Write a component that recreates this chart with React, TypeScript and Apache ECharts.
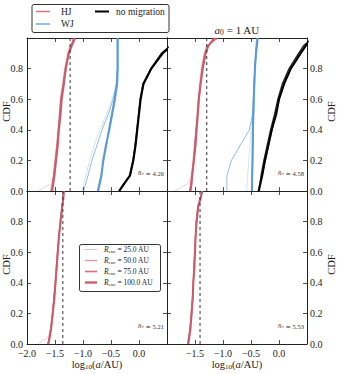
import React, { useEffect, useRef } from 'react';
import * as echarts from 'echarts';

// ---------- data ----------
const cdfLevels = [0, 0.05, 0.1, 0.2, 0.3, 0.4, 0.5, 0.6, 0.7, 0.8, 0.9, 0.95, 1.0];
const rEncLabels = ['25.0', '50.0', '75.0', '100.0'];
const xTicks = [-2.0, -1.5, -1.0, -0.5, 0.0, 0.5];
const yTicks = [0.0, 0.2, 0.4, 0.6, 0.8, 1.0];

// top-left (no title)
const hjTL25 = [-1.80, -1.56, -1.53, -1.50, -1.47, -1.45, -1.42, -1.40, -1.37, -1.33, -1.28, -1.24, -1.16];
const hjTL50 = [-1.58, -1.55, -1.53, -1.50, -1.47, -1.44, -1.41, -1.39, -1.36, -1.32, -1.27, -1.22, -1.17];
const hjTL75 = [-1.56, -1.54, -1.52, -1.49, -1.46, -1.44, -1.42, -1.40, -1.35, -1.30, -1.26, -1.21, -1.15];
const hjTL100 = [-1.55, -1.53, -1.51, -1.48, -1.45, -1.43, -1.40, -1.38, -1.34, -1.31, -1.25, -1.20, -1.14];
const wjTL25 = [-1.02, -0.98, -0.95, -0.88, -0.80, -0.70, -0.58, -0.48, -0.41, -0.39, -0.39, -0.39, -0.39];
const wjTL50 = [-0.99, -0.95, -0.91, -0.84, -0.75, -0.66, -0.55, -0.46, -0.40, -0.385, -0.385, -0.385, -0.385];
const wjTL75 = [-0.74, -0.71, -0.68, -0.63, -0.58, -0.54, -0.49, -0.44, -0.40, -0.385, -0.385, -0.385, -0.385];
const wjTL100 = [-0.73, -0.70, -0.67, -0.64, -0.59, -0.53, -0.48, -0.43, -0.39, -0.38, -0.38, -0.38, -0.38];
const nmTL25 = [-0.36, -0.26, -0.17, -0.10, -0.07, -0.04, -0.01, 0.02, 0.08, 0.22, 0.42, 0.58, 0.95];
const nmTL50 = [-0.35, -0.25, -0.16, -0.10, -0.06, -0.03, 0.00, 0.03, 0.09, 0.23, 0.44, 0.60, 0.95];
const nmTL75 = [-0.36, -0.27, -0.17, -0.11, -0.07, -0.04, -0.01, 0.02, 0.07, 0.21, 0.40, 0.56, 0.95];
const nmTL100 = [-0.35, -0.26, -0.16, -0.10, -0.06, -0.03, 0.00, 0.03, 0.08, 0.22, 0.42, 0.58, 0.95];

// top-right (a0 = 1 AU)
const hjTR25 = [-1.86, -1.62, -1.57, -1.54, -1.51, -1.49, -1.47, -1.45, -1.42, -1.39, -1.34, -1.29, -1.10];
const hjTR50 = [-1.60, -1.58, -1.56, -1.53, -1.51, -1.48, -1.46, -1.44, -1.41, -1.38, -1.33, -1.28, -1.08];
const hjTR75 = [-1.59, -1.57, -1.55, -1.52, -1.50, -1.48, -1.45, -1.43, -1.40, -1.37, -1.32, -1.27, -1.12];
const hjTR100 = [-1.58, -1.56, -1.55, -1.52, -1.49, -1.47, -1.45, -1.43, -1.40, -1.36, -1.31, -1.26, -1.15];
const wjTR25 = [-0.58, -0.57, -0.56, -0.54, -0.52, -0.50, -0.48, -0.46, -0.45, -0.43, -0.42, -0.41, -0.40];
const wjTR50 = [-0.93, -0.93, -0.93, -0.85, -0.69, -0.53, -0.47, -0.46, -0.45, -0.43, -0.42, -0.41, -0.40];
const wjTR75 = [-0.48, -0.48, -0.475, -0.47, -0.465, -0.46, -0.455, -0.45, -0.44, -0.43, -0.41, -0.40, -0.38];
const wjTR100 = [-0.485, -0.48, -0.48, -0.475, -0.47, -0.465, -0.46, -0.45, -0.44, -0.43, -0.41, -0.395, -0.38];
const nmTR25 = [-0.37, -0.34, -0.31, -0.26, -0.20, -0.14, -0.07, -0.01, 0.08, 0.20, 0.38, 0.46, 0.60];
const nmTR50 = [-0.36, -0.33, -0.30, -0.24, -0.18, -0.12, -0.06, 0.01, 0.10, 0.22, 0.36, 0.47, 0.60];
const nmTR75 = [-0.37, -0.34, -0.32, -0.27, -0.21, -0.15, -0.08, -0.02, 0.06, 0.18, 0.35, 0.44, 0.60];
const nmTR100 = [-0.36, -0.33, -0.30, -0.25, -0.19, -0.13, -0.05, 0.00, 0.09, 0.21, 0.39, 0.48, 0.60];

// bottom-left
const hjBL25 = [-1.80, -1.62, -1.58, -1.54, -1.52, -1.50, -1.48, -1.46, -1.44, -1.41, -1.38, -1.36, -1.34];
const hjBL50 = [-1.63, -1.60, -1.58, -1.55, -1.52, -1.50, -1.48, -1.46, -1.43, -1.41, -1.38, -1.36, -1.35];
const hjBL75 = [-1.62, -1.60, -1.57, -1.54, -1.52, -1.49, -1.47, -1.45, -1.43, -1.40, -1.37, -1.36, -1.35];
const hjBL100 = [-1.62, -1.59, -1.57, -1.54, -1.51, -1.49, -1.47, -1.45, -1.43, -1.40, -1.37, -1.35, -1.34];

// bottom-right
const hjBR25 = [-1.64, -1.61, -1.59, -1.57, -1.55, -1.54, -1.52, -1.51, -1.49, -1.48, -1.44, -1.40, -1.36];
const hjBR50 = [-1.62, -1.60, -1.59, -1.57, -1.55, -1.53, -1.52, -1.51, -1.49, -1.47, -1.44, -1.41, -1.37];
const hjBR75 = [-1.63, -1.61, -1.59, -1.56, -1.54, -1.53, -1.52, -1.50, -1.49, -1.48, -1.45, -1.41, -1.37];
const hjBR100 = [-1.62, -1.60, -1.58, -1.56, -1.54, -1.53, -1.51, -1.50, -1.49, -1.47, -1.44, -1.40, -1.37];

const dashTL = -1.23;
const dashTR = -1.29;
const dashBL = -1.36;
const dashBR = -1.41;
const nbarValues = ['4.26', '4.58', '5.21', '5.53'];

// ---------- styles ----------
const HJ = '#cc5a6e';
const WJ = '#5b9ad6';
const NM = '#000000';
const FONT = '"Liberation Serif", "DejaVu Serif", serif';
const AX = '#222';
const widths = [0.6, 1.0, 1.4, 2.0];
const opac = [0.45, 0.65, 0.85, 1.0];

const panels = [
  { left: 27, top: 38, hj: [hjTL25, hjTL50, hjTL75, hjTL100], wj: [wjTL25, wjTL50, wjTL75, wjTL100], nm: [nmTL25, nmTL50, nmTL75, nmTL100], dash: dashTL, nbar: nbarValues[0], xLab: false, hideMin: false, ySide: 'left' },
  { left: 167, top: 38, hj: [hjTR25, hjTR50, hjTR75, hjTR100], wj: [wjTR25, wjTR50, wjTR75, wjTR100], nm: [nmTR25, nmTR50, nmTR75, nmTR100], dash: dashTR, nbar: nbarValues[1], xLab: false, hideMin: true, ySide: 'right' },
  { left: 27, top: 191, hj: [hjBL25, hjBL50, hjBL75, hjBL100], wj: [], nm: [], dash: dashBL, nbar: nbarValues[2], xLab: true, hideMin: false, ySide: 'left' },
  { left: 167, top: 191, hj: [hjBR25, hjBR50, hjBR75, hjBR100], wj: [], nm: [], dash: dashBR, nbar: nbarValues[3], xLab: true, hideMin: true, ySide: 'right' },
];
const PW = 140;
const PH = 153;

const fmt = (v: number) => (v < 0 ? '\u2212' : '') + Math.abs(v).toFixed(1);
const toPairs = (xs: number[]) => xs.map((x, i) => [x, cdfLevels[i]]);

function buildOption() {
  const grid: any[] = [];
  const xAxis: any[] = [];
  const yAxis: any[] = [];
  const series: any[] = [];
  const graphic: any[] = [];

  panels.forEach((p, g) => {
    grid.push({ left: p.left, top: p.top, width: PW, height: PH, containLabel: false });
    const common = {
      type: 'value',
      gridIndex: g,
      splitLine: { show: false },
      axisLine: { show: true, onZero: false, lineStyle: { color: AX, width: 1 } },
      axisTick: { show: true, inside: true, length: 4, lineStyle: { color: AX, width: 0.8 } },
    };
    ['bottom', 'top'].forEach((pos) => {
      xAxis.push({
        ...common,
        position: pos,
        min: xTicks[0],
        max: xTicks[xTicks.length - 1],
        interval: 0.5,
        axisLabel: {
          show: pos === 'bottom' && p.xLab,
          margin: 4,
          fontFamily: FONT,
          fontSize: 10,
          color: AX,
          showMinLabel: true,
          showMaxLabel: true,
          formatter: (v: number) => {
            if (v > 0.4) return '';
            if (p.hideMin && v < -1.9) return '';
            return fmt(v);
          },
        },
      });
    });
    ['left', 'right'].forEach((pos) => {
      yAxis.push({
        ...common,
        position: pos,
        min: yTicks[0],
        max: yTicks[yTicks.length - 1],
        interval: 0.2,
        axisLabel: {
          show: pos === p.ySide,
          margin: pos === 'left' ? 4 : 3,
          fontFamily: FONT,
          fontSize: 10,
          color: AX,
          showMinLabel: true,
          showMaxLabel: true,
          formatter: (v: number) => (v > 0.9 ? '' : v.toFixed(1)),
        },
      });
    });

    const xi = 2 * g;
    const yi = 2 * g;
    const addGroup = (arrs: number[][], color: string) => {
      arrs.forEach((xs, k) => {
        series.push({
          type: 'line',
          xAxisIndex: xi,
          yAxisIndex: yi,
          data: toPairs(xs),
          showSymbol: false,
          symbol: 'none',
          clip: true,
          lineStyle: { color, width: widths[k], opacity: opac[k] },
          z: 2 + k,
        });
      });
    };
    addGroup(p.hj, HJ);
    addGroup(p.wj, WJ);
    addGroup(p.nm, NM);
    series.push({
      type: 'line',
      xAxisIndex: xi,
      yAxisIndex: yi,
      data: [[p.dash, 0], [p.dash, 1]],
      showSymbol: false,
      symbol: 'none',
      lineStyle: { color: '#333', width: 1, type: [3, 3] },
      z: 10,
    });

    graphic.push({
      type: 'text',
      x: p.left + PW - 3,
      y: p.top + PH - 18,
      style: {
        text: '{i|n\u0304}{s|*} \u2243 ' + p.nbar,
        align: 'right',
        verticalAlign: 'middle',
        fontFamily: FONT,
        fontSize: 6.5,
        fill: '#333',
        rich: {
          i: { fontStyle: 'italic', fontSize: 7, fontFamily: FONT, fill: '#333' },
          s: { fontSize: 5, fontFamily: FONT, fill: '#333', padding: [3, 0, 0, 0] },
        },
      },
      z: 20,
    });

    // CDF label
    graphic.push({
      type: 'text',
      x: p.ySide === 'left' ? 6 : 331,
      y: p.top + PH / 2 - 3,
      rotation: Math.PI / 2,
      style: { text: 'CDF', align: 'center', verticalAlign: 'middle', fontFamily: FONT, fontSize: 10.5, fill: '#222' },
      z: 20,
    });

    if (p.xLab) {
      graphic.push({
        type: 'text',
        x: p.left + PW / 2,
        y: 364,
        style: {
          text: '{n|log}{s|10}{n|(}{i|a}{n|/AU)}',
          align: 'center',
          verticalAlign: 'middle',
          fontFamily: FONT,
          fontSize: 10.5,
          fill: '#222',
          rich: {
            n: { fontSize: 10.5, fontFamily: FONT, fill: '#222' },
            i: { fontSize: 10.5, fontFamily: FONT, fontStyle: 'italic', fill: '#222' },
            s: { fontSize: 7, fontFamily: FONT, fill: '#222', padding: [5, 0, 0, 0] },
          },
        },
        z: 20,
      });
    }
  });

  // title of top-right panel
  graphic.push({
    type: 'text',
    x: 237,
    y: 30,
    style: {
      text: '{i|a}{s|0}{n| = 1 AU}',
      align: 'center',
      verticalAlign: 'middle',
      fontFamily: FONT,
      fill: '#222',
      rich: {
        n: { fontSize: 11, fontFamily: FONT, fill: '#222' },
        i: { fontSize: 11, fontFamily: FONT, fontStyle: 'italic', fill: '#222' },
        s: { fontSize: 7.5, fontFamily: FONT, fill: '#222', padding: [5, 0, 0, 0] },
      },
    },
    z: 20,
  });

  // legend 1
  graphic.push({
    type: 'rect',
    shape: { x: 32, y: 4.5, width: 137, height: 28, r: 2 },
    style: { fill: '#fff', stroke: '#333', lineWidth: 1 },
    z: 30,
  });
  const leg1 = [
    { x: 36, y: 11.5, color: HJ, w: 1.5, op: 0.85, label: 'HJ' },
    { x: 36, y: 24, color: WJ, w: 1.5, op: 0.85, label: 'WJ' },
    { x: 95, y: 11.5, color: NM, w: 2, op: 1, label: 'no migration' },
  ];
  leg1.forEach((e) => {
    graphic.push({
      type: 'line',
      shape: { x1: e.x, y1: e.y, x2: e.x + 14, y2: e.y },
      style: { stroke: e.color, lineWidth: e.w, opacity: e.op },
      z: 31,
    });
    graphic.push({
      type: 'text',
      x: e.x + (e.label === 'no migration' ? 21 : 25),
      y: e.y,
      style: { text: e.label, align: 'left', verticalAlign: 'middle', fontFamily: FONT, fontSize: 9.5, fill: '#222' },
      z: 31,
    });
  });

  // legend 2 (R_enc)
  graphic.push({
    type: 'rect',
    shape: { x: 79.5, y: 244.5, width: 81, height: 47, r: 2 },
    style: { fill: '#fff', stroke: '#333', lineWidth: 1 },
    z: 30,
  });
  rEncLabels.forEach((lab, k) => {
    const y = 249.5 + k * 11;
    graphic.push({
      type: 'line',
      shape: { x1: 85, y1: y, x2: 97, y2: y },
      style: { stroke: HJ, lineWidth: widths[k] + 0.3, opacity: opac[k] },
      z: 31,
    });
    graphic.push({
      type: 'text',
      x: 104,
      y,
      style: {
        text: '{i|R}{s|enc}{n| = ' + lab + ' AU}',
        align: 'left',
        verticalAlign: 'middle',
        fontFamily: FONT,
        fill: '#222',
        rich: {
          n: { fontSize: 7.5, fontFamily: FONT, fill: '#222' },
          i: { fontSize: 7.5, fontFamily: FONT, fontStyle: 'italic', fill: '#222' },
          s: { fontSize: 5, fontFamily: FONT, fill: '#222', padding: [3, 0, 0, 0] },
        },
      },
      z: 31,
    });
  });

  return {
    animation: false,
    backgroundColor: '#fff',
    grid,
    xAxis,
    yAxis,
    series,
    graphic,
  };
}

export default function App() {
  const ref = useRef<HTMLDivElement>(null);
  useEffect(() => {
    if (!ref.current) return;
    const chart = echarts.init(ref.current, undefined, { renderer: 'svg' });
    chart.setOption(buildOption() as any);
    return () => chart.dispose();
  }, []);
  return (
    <div
      ref={ref}
      style={{ position: 'absolute', left: 0, top: 0, width: 343, height: 374, background: '#fff' }}
    />
  );
}
